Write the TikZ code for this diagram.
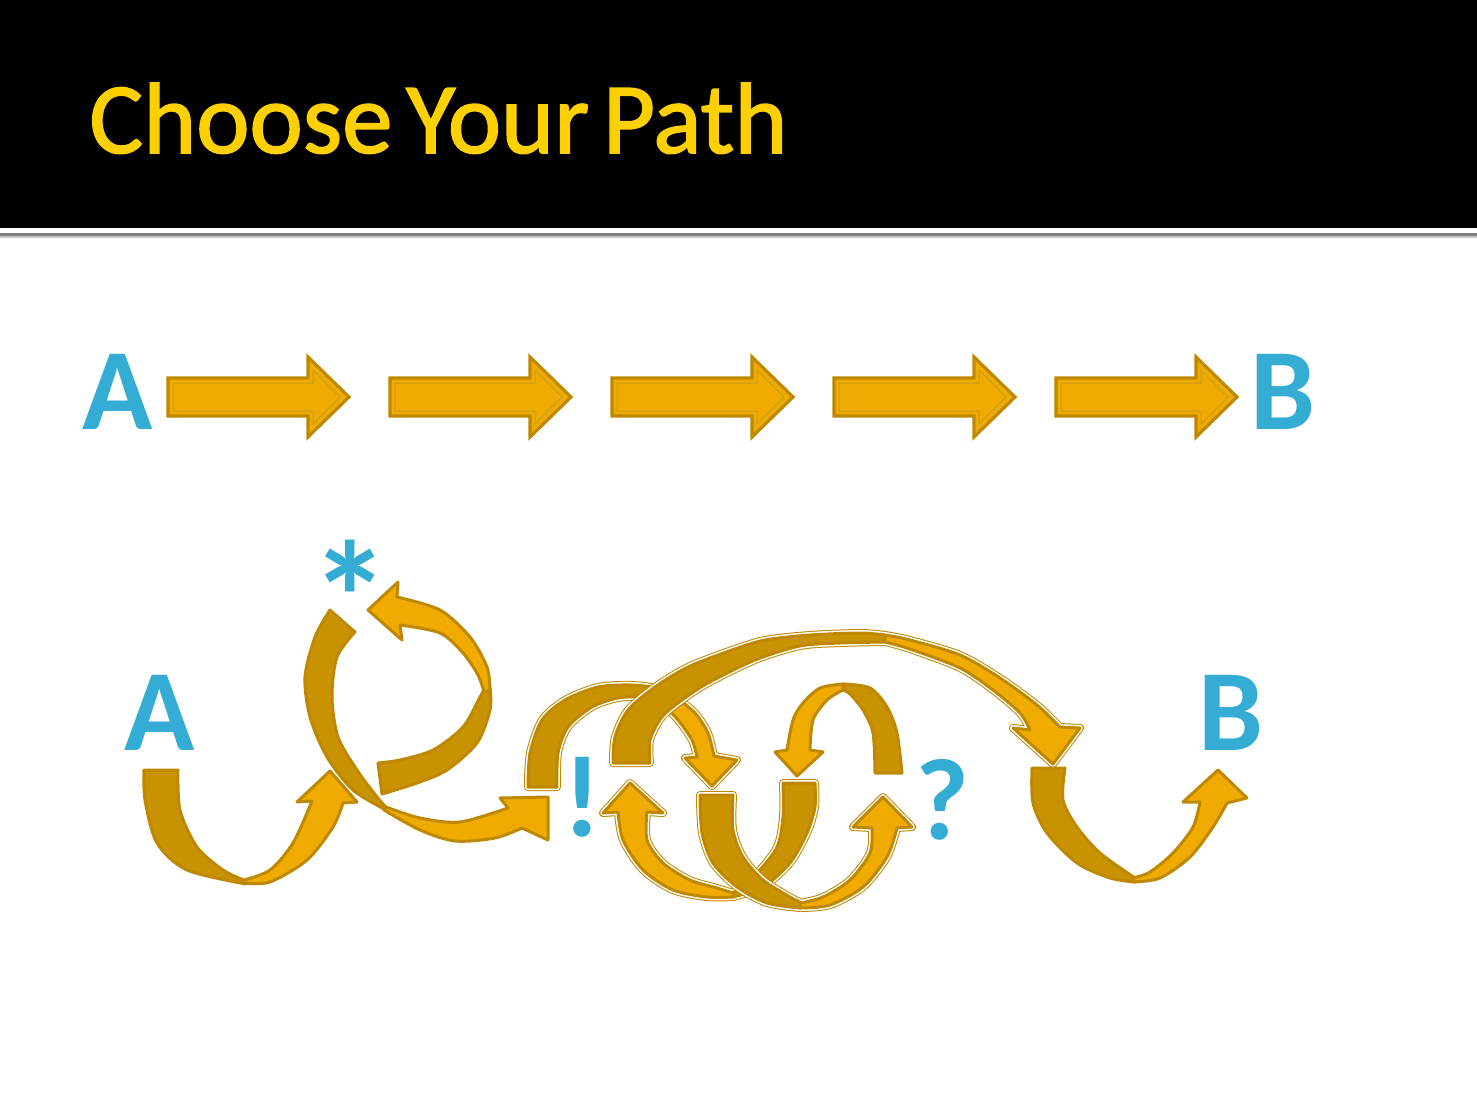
\documentclass[tikz,border=0pt]{standalone}
\usepackage{fontspec}
\setmainfont{Carlito}
\newfontfamily\titlefont[FakeBold=1.5,WordSpace=0.6]{Carlito}
\usepackage{tikz}
\usetikzlibrary{
  arrows.meta,
  positioning
}
\definecolor{titleyellow}{RGB}{255,208,0}
\definecolor{frontgold}{RGB}{240,171,0}
\definecolor{backgold}{RGB}{200,146,0}
\definecolor{edgegold}{RGB}{190,137,0}
\definecolor{letterblue}{RGB}{52,172,212}
\definecolor{rulegray}{RGB}{128,128,128}
\tikzset{
  titletext/.style={text=titleyellow,font=\titlefont\fontsize{50.5}{60}\selectfont,inner sep=0pt},
  letter/.style={text=letterblue,font=\fontsize{58}{70}\selectfont\bfseries,inner sep=0pt},
  bigletter/.style={letter,font=\fontsize{80}{90}\selectfont\bfseries},
  blockarrow/.style={fill=frontgold,draw=edgegold,line width=1.6pt,line join=miter},
  insetline/.style={draw=edgegold!85,line width=0.5pt},
  backband/.style={fill=backgold,draw=edgegold,line width=1.5pt,line join=round},
  frontband/.style={fill=frontgold,draw=edgegold,line width=1.5pt,line join=round},
  halo/.style={draw=edgegold,line width=0.5pt,double=white,double distance=3pt,line join=round}
}
% #1 outline style, #2 back (dark) half, #3 front half with the head
\newcommand{\goldribbon}[3]{%
  \path[#1] #2 #3;
  \path[backband] #2;
  \path[frontband] #3;
}

\begin{document}
\begin{tikzpicture}[x=0.5pt,y=-0.5pt]
  \useasboundingbox (0,0) rectangle (1477,1103);
  \fill[white] (0,0) rectangle (1477,1103);
  \fill[black] (0,0) rectangle (1477,228);
  \fill[rulegray] (0,233) rectangle (1477,236);
  \fill[rulegray!45] (0,236) rectangle (1477,238);
  \node[titletext,anchor=base west] (title) at (89,153) {Choose Your Path};

  % straight path
  \foreach \x in {168,390,612,834,1056}{
    \draw[blockarrow] (\x,378) -- ({\x+140},378) -- ({\x+140},357) -- ({\x+181},397)
      -- ({\x+140},437) -- ({\x+140},416) -- (\x,416) -- cycle;
    \draw[insetline] ({\x+5},383) -- ({\x+145},383) -- ({\x+145},370) -- ({\x+172},397)
      -- ({\x+145},424) -- ({\x+145},411) -- ({\x+5},411) -- cycle;
  }
  \node[letter,anchor=base] (topA) at (118,429) {A};
  \node[letter,anchor=base] (topB) at (1283,429) {B};

  % winding path
  \goldribbon{}{plot[smooth] coordinates {(144,770) (145,800) (157,843) (187,870) (246,884)}
    -- plot[smooth] coordinates {(246,881) (223,870) (197,847) (180,810) (178,770)} -- cycle}
    {plot[smooth] coordinates {(244,883) (270,882) (307,860) (333,827) (343,803)}
    -- (357,802) -- (330,771) -- (297,802)
    -- plot[smooth] coordinates {(312,801) (293,843) (270,870) (244,880)} -- cycle}
  \goldribbon{}{plot[smooth] coordinates {(330,610) (315,637) (305,677) (310,717) (327,757) (353,790) (386,810)}
    -- plot[smooth] coordinates {(386,807) (377,797) (357,770) (338,737) (332,697) (337,657) (355,632)} -- cycle}
    {plot[smooth] coordinates {(384,810) (420,830) (455,841) (495,838) (522,828)}
    -- (548,840) -- (548,797) -- (500,798)
    -- plot[smooth] coordinates {(508,808) (460,822) (420,818) (386,807)} -- cycle}
  \goldribbon{}{plot[smooth] coordinates {(490,688) (490,710) (477,743) (447,770) (417,783) (382,794)}
    -- plot[smooth] coordinates {(378,763) (400,760) (433,750) (463,727) (480,697) (484,690)} -- cycle}
    {(368,610) -- (398,582)
    -- plot[smooth] coordinates {(397,597) (440,610) (470,637) (487,667) (490,690)}
    -- plot[smooth] coordinates {(484,692) (478,675) (463,653) (440,633) (400,625)} -- (402,640) -- cycle}
  \goldribbon{halo}{plot[smooth] coordinates {(528,787) (530,753) (542,720) (565,700) (598,687) (632,685) (658,688)}
    -- plot[smooth] coordinates {(655,700) (642,697) (618,698) (592,707) (568,727) (558,753) (557,787)} -- cycle}
    {plot[smooth] coordinates {(656,688) (675,697) (695,713) (708,733) (714,756)}
    -- (737,760) -- (712,786) -- (685,758)
    -- plot[smooth] coordinates {(697,757) (692,740) (678,720) (665,707) (654,700)} -- cycle}
  \goldribbon{halo}{plot[smooth] coordinates {(613,763) (615,737) (628,710) (655,687) (688,667) (732,650) (765,640) (810,635) (860,633) (885,635)}
    -- plot[smooth] coordinates {(885,642) (840,643) (800,646) (755,660) (708,683) (682,700) (662,717) (650,740) (650,763)} -- cycle}
    {plot[smooth] coordinates {(885,635) (910,640) (960,655) (1000,678) (1037,705) (1060,727)}
    -- (1080,728) -- (1053,764) -- (1013,728)
    -- plot[smooth] coordinates {(1030,730) (1020,713) (993,690) (960,668) (910,649) (885,642)} -- cycle}
  \goldribbon{}{plot[smooth] coordinates {(843,684) (870,688) (887,707) (897,733) (902,773)}
    -- plot[smooth] coordinates {(875,773) (873,733) (863,710) (850,694) (843,690)} -- cycle}
    {plot[smooth] coordinates {(843,684) (820,688) (803,703) (793,720) (787,750)}
    -- (775,752) -- (797,776) -- (823,752)
    -- plot[smooth] coordinates {(810,750) (813,720) (827,700) (843,690)} -- cycle}
  \goldribbon{halo}{plot[smooth] coordinates {(733,897) (763,887) (790,863) (807,833) (815,807) (815,783)}
    -- plot[smooth] coordinates {(783,783) (783,817) (777,847) (757,873) (733,893)} -- cycle}
    {plot[smooth] coordinates {(733,897) (707,897) (673,890) (643,870) (623,840) (618,812)}
    -- (603,813) -- (630,783) -- (663,813)
    -- plot[smooth] coordinates {(647,812) (647,840) (663,863) (690,880) (717,888) (733,893)} -- cycle}
  \goldribbon{halo}{plot[smooth] coordinates {(700,795) (702,833) (713,863) (737,887) (767,903) (800,908)}
    -- plot[smooth] coordinates {(800,902) (790,897) (763,880) (743,857) (733,830) (733,795)} -- cycle}
    {plot[smooth] coordinates {(800,908) (830,905) (863,887) (887,857) (897,828)}
    -- (912,827) -- (883,797) -- (853,827)
    -- plot[smooth] coordinates {(872,828) (870,853) (850,880) (823,897) (800,903)} -- cycle}
  \goldribbon{}{plot[smooth] coordinates {(1032,768) (1033,803) (1047,833) (1077,863) (1110,878) (1135,882)}
    -- plot[smooth] coordinates {(1135,878) (1100,853) (1077,827) (1063,800) (1065,768)} -- cycle}
    {plot[smooth] coordinates {(1133,882) (1160,878) (1190,857) (1213,827) (1227,803)}
    -- (1247,798) -- (1218,770) -- (1183,802)
    -- plot[smooth] coordinates {(1200,802) (1193,827) (1173,853) (1150,872) (1133,878)} -- cycle}

  \node[letter,anchor=base] (botA) at (160,750) {A};
  \node[letter,anchor=base] (botB) at (1231,750) {B};
  \node[bigletter,anchor=base] (star) at (350,654) {*};
  \node[letter,anchor=base] (bang) at (582,836) {!};
  \node[letter,anchor=base] (quest) at (942,839) {?};
\end{tikzpicture}
\end{document}
